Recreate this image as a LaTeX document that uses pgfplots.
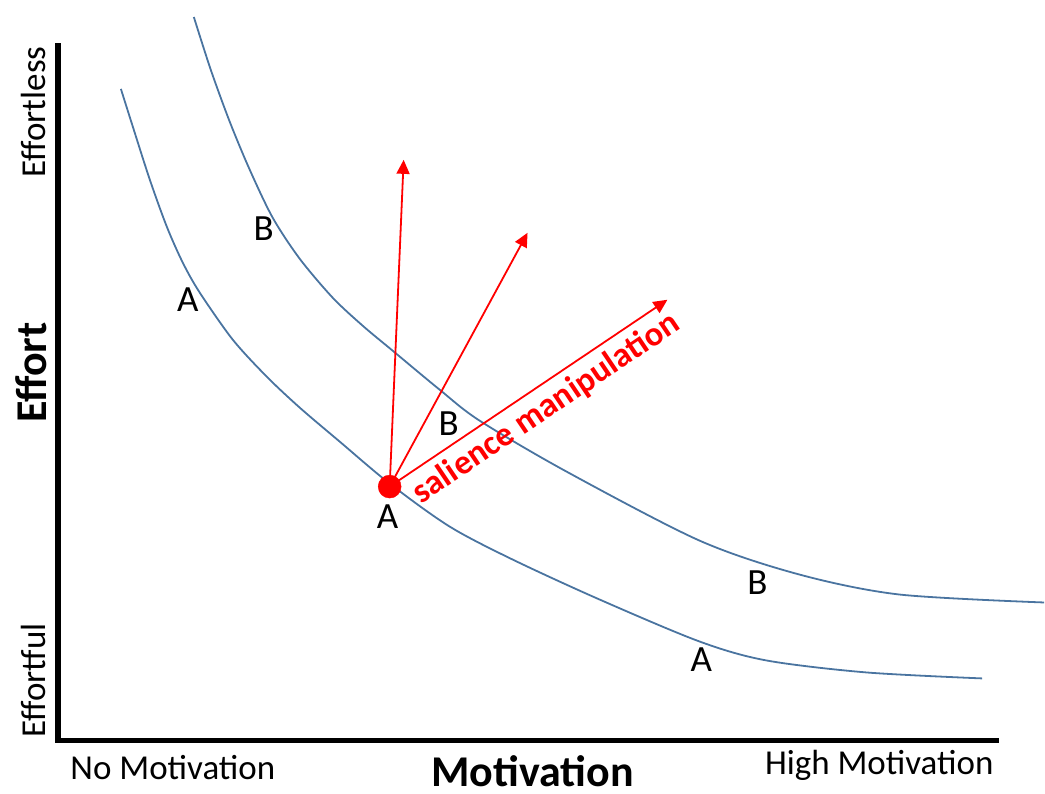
\documentclass[border=0pt]{standalone}
\usepackage{pgfplots}
\pgfplotsset{compat=1.18}
\usepackage{fontspec}
\setmainfont{Carlito}
\usetikzlibrary{arrows.meta}
\definecolor{curveblue}{HTML}{4A74A0}
\definecolor{myred}{HTML}{FF0000}
\begin{document}
\begin{tikzpicture}
\begin{axis}[
  scale only axis, width=1045pt, height=794pt,
  xmin=0, xmax=1045, ymin=0, ymax=794, y dir=reverse,
  hide axis, clip=false,
]
% page extent
\addplot[draw=none] coordinates {(0,0) (1045,794)};
% axis lines
\addplot[black, line width=5.5pt, line cap=rect] coordinates {(58,46) (58,741) (997,741)};
% curve A
\addplot[curveblue, line width=1.8pt, smooth, tension=0.5] coordinates {
(121,89) (133,127) (150,180) (167,227) (183,263) (200,293) (233,340) (267,377) (300,408) (340,442) (390,484) (450,527) (513,560) (600,600) (700,642) (767,661) (867,673) (983,679)};
% curve B
\addplot[curveblue, line width=1.8pt, smooth, tension=0.5] coordinates {
(194,17) (211,70) (230,122) (250,170) (273,218) (300,259) (333,298) (363,326) (393,351) (440,390) (480,421) (567,472) (700,541) (800,575) (900,595) (1045,603)};
% arrows
\addplot[myred, line width=1.8pt, -{Triangle[length=14pt,width=13pt]}] coordinates {(390,487) (404,160)};
\addplot[myred, line width=1.8pt, -{Triangle[length=14pt,width=13pt]}] coordinates {(390,487) (528,233)};
\addplot[myred, line width=1.8pt, -{Triangle[length=14pt,width=13pt]}] coordinates {(390,487) (668,300)};
% red dot
\addplot[only marks, mark=*, mark size=11.5pt, myred, mark options={draw=myred, fill=myred}] coordinates {(390,487)};
% labels
\node[font=\fontsize{35}{40}\selectfont, rotate=90] at (axis cs:34,112) {Effortless};
\node[font=\fontsize{35}{40}\selectfont, rotate=90] at (axis cs:34,681) {Effortful};
\node[font=\fontsize{44}{50}\selectfont\bfseries, rotate=90] at (axis cs:31,373) {Effort};
\node[font=\fontsize{35}{40}\selectfont] at (axis cs:173,768) {No Motivation};
\node[font=\fontsize{35}{40}\selectfont] at (axis cs:880,766) {High Motivation};
\node[font=\fontsize{44}{50}\selectfont\bfseries, inner sep=0pt] at (axis cs:533,772) {Motivation};
\node[font=\fontsize{37}{40}\selectfont] at (axis cs:264,229) {B};
\node[font=\fontsize{37}{40}\selectfont] at (axis cs:188,300) {A};
\node[font=\fontsize{37}{40}\selectfont] at (axis cs:449,424) {B};
\node[font=\fontsize{37}{40}\selectfont] at (axis cs:388,517) {A};
\node[font=\fontsize{37}{40}\selectfont] at (axis cs:758,583) {B};
\node[font=\fontsize{37}{40}\selectfont] at (axis cs:702,660) {A};
\node[font=\fontsize{34.5}{40}\selectfont\bfseries, text=myred, rotate=34, inner sep=0pt] at (axis cs:547,409) {salience manipulation};
\end{axis}
\end{tikzpicture}
\end{document}
